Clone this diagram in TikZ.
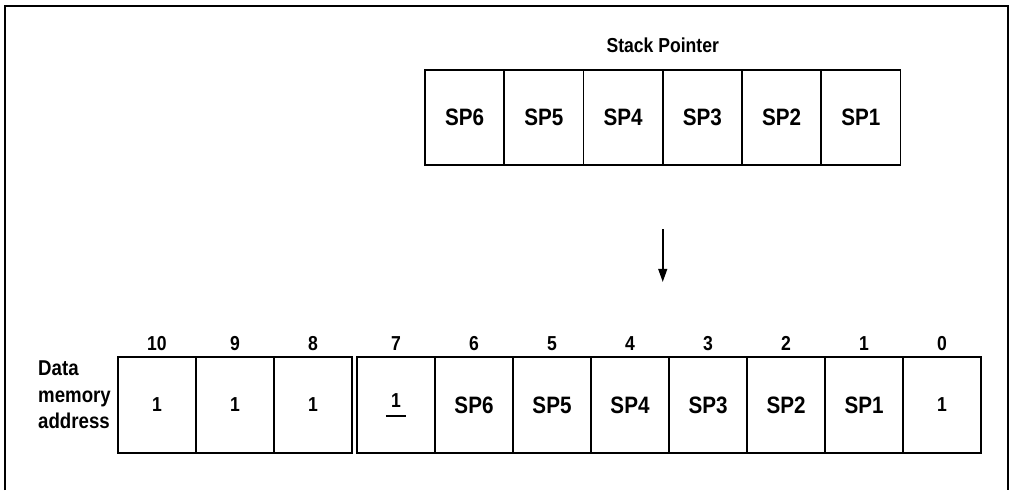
\documentclass[tikz,border=0pt]{standalone}
\usepackage{fontspec}
\setmainfont{Liberation Sans}[FakeStretch=0.87]
\usepackage{tikz}
\usetikzlibrary{positioning,arrows.meta}
\newcommand{\cellfont}{\fontsize{11.5}{14}\selectfont\bfseries}
\newcommand{\spfont}{\fontsize{13.5}{16}\selectfont\bfseries}
\newcommand{\ulmark}[1]{\setbox0\hbox{#1}\rlap{\hbox to \wd0{\hss\rule[-5.5pt]{11.4pt}{1pt}\hss}}\box0}
\tikzset{
  cell/.style={draw,line width=1.1pt,outer sep=0pt,inner sep=0pt,
               minimum width=1.56cm,minimum height=1.92cm,font=\cellfont},
  spcell/.style={cell,minimum width=1.585cm,minimum height=1.9cm,font=\spfont},
  idx/.style={font=\cellfont},
  lbl/.style={font=\cellfont,align=left},
  arr/.style={-{Triangle[length=7.5pt,width=5pt]},line width=1.1pt},
  frame/.style={line width=1.4pt},
}

\begin{document}
\begin{tikzpicture}
        \useasboundingbox (0,0) rectangle (20.2,9.8);
        \draw[frame] (0.1,0) |- (20.16,9.68) -- (20.16,0);
        % stack pointer register
        \node[spcell,anchor=west] (sp6) at (8.5,7.45) {SP6};
        \node[spcell,right=0pt of sp6] (sp5) {SP5};
        \node[spcell,right=0pt of sp5] (sp4) {SP4};
        \node[spcell,right=0pt of sp4] (sp3) {SP3};
        \node[spcell,right=0pt of sp3] (sp2) {SP2};
        \node[spcell,right=0pt of sp2] (sp1) {SP1};
        \node[lbl,above=0.23cm of sp4.north east] (sptitle) {Stack Pointer};
        % data memory
        \node[cell,anchor=west] (m10) at (2.36,1.7) {1};
        \node[cell,right=0pt of m10] (m9) {1};
        \node[cell,right=0pt of m9] (m8) {1};
        \node[cell,right=0.1cm of m8] (m7) {\ulmark{1}\hspace{5pt}};
        \node[cell,right=0pt of m7] (m6) {\spfont SP6};
        \node[cell,right=0pt of m6] (m5) {\spfont SP5};
        \node[cell,right=0pt of m5] (m4) {\spfont SP4};
        \node[cell,right=0pt of m4] (m3) {\spfont SP3};
        \node[cell,right=0pt of m3] (m2) {\spfont SP2};
        \node[cell,right=0pt of m2] (m1) {\spfont SP1};
        \node[cell,right=0pt of m1] (m0) {1};
        \node[lbl,font=\fontsize{12.2}{15.2}\selectfont\bfseries,
              left=0.02cm of m10,yshift=0.2cm] (dma) {Data\\memory\\address};
        \node[idx,above=0pt of m10] (a10) {10};
        \node[idx,above=0pt of m9] (a9) {9};
        \node[idx,above=0pt of m8] (a8) {8};
        \node[idx,above=0pt of m7] (a7) {7};
        \node[idx,above=0pt of m6] (a6) {6};
        \node[idx,above=0pt of m5] (a5) {5};
        \node[idx,above=0pt of m4] (a4) {4};
        \node[idx,above=0pt of m3] (a3) {3};
        \node[idx,above=0pt of m2] (a2) {2};
        \node[idx,above=0pt of m1] (a1) {1};
        \node[idx,above=0pt of m0] (a0) {0};
        \draw[arr,shorten <=1.28cm,shorten >=1.5cm] (sp4.south east)--(sp4.south east |- m4.north);
      \end{tikzpicture}
\end{document}
